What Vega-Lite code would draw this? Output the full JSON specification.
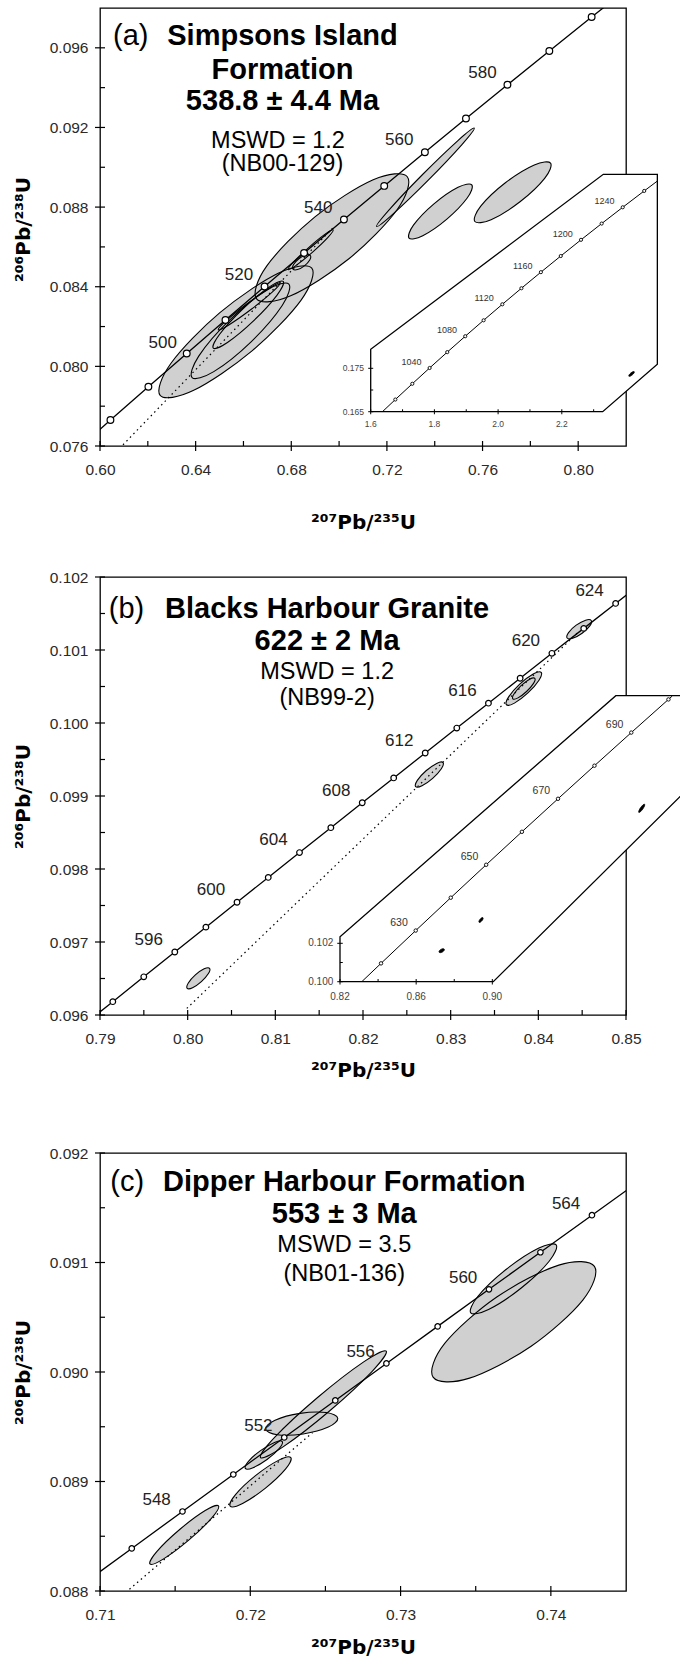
{
"$schema":"https://vega.github.io/schema/vega-lite/v6.json",
"autosize":{"type":"none"},
"padding":{"left":100,"top":8,"right":580,"bottom":1653},
"background":"white",
"config":{
 "view":{"stroke":"black","strokeWidth":1.3},
 "font":"Liberation Sans",
 "axis":{"ticks":false,"domain":false,"grid":false,"labelFont":"Liberation Sans","labelFontSize":15.5,"labelColor":"#2a2a2a","labelFlush":false,"labelOverlap":false,"titleFont":"DejaVu Sans","titleFontSize":20,"titleFontWeight":"bold","titleColor":"black"},
 "axisX":{"labelPadding":16},
 "axisY":{"labelPadding":12}
},
"datasets":{
 "a_conc":[{"t":470,"x":0.588642,"y":0.0756324,"m":0},{"t":480,"x":0.604365,"y":0.0773023,"m":1},{"t":490,"x":0.620244,"y":0.0789747,"m":1},{"t":500,"x":0.636279,"y":0.0806498,"m":1},{"t":510,"x":0.652474,"y":0.0823274,"m":1},{"t":520,"x":0.668829,"y":0.0840077,"m":1},{"t":530,"x":0.685345,"y":0.0856906,"m":1},{"t":540,"x":0.702025,"y":0.0873761,"m":1},{"t":550,"x":0.718871,"y":0.0890642,"m":1},{"t":560,"x":0.735883,"y":0.0907549,"m":1},{"t":570,"x":0.753063,"y":0.0924482,"m":1},{"t":580,"x":0.770413,"y":0.0941442,"m":1},{"t":590,"x":0.787935,"y":0.0958428,"m":1},{"t":600,"x":0.805631,"y":0.0975441,"m":1},{"t":610,"x":0.823501,"y":0.0992479,"m":0}],
 "a_lbl":[{"t":"500","x":0.62622,"y":0.081168},{"t":"520","x":0.65816,"y":0.084599},{"t":"540","x":0.69125,"y":0.087949},{"t":"560","x":0.72515,"y":0.09138},{"t":"580","x":0.75998,"y":0.09473}],
 "a_title":[{"t":"Simpsons Island","x":0.67633,"y":0.096142},{"t":"Formation","x":0.67633,"y":0.094434},{"t":"538.8 ± 4.4 Ma","x":0.67633,"y":0.092877}],
 "a_sub":[{"t":"MSWD = 1.2","x":0.67445,"y":0.090968},{"t":"(NB00-129)","x":0.67633,"y":0.089813}],
 "a_tag":[{"t":"(a)","x":0.605437,"y":0.096142}],
 "a_disc":[{"x":0.60962,"y":0.07606},{"x":0.69743,"y":0.08696}],
 "a_tick":[{"ax":"x","k":"maj","v":0.6},{"ax":"x","k":"maj","v":0.64},{"ax":"x","k":"maj","v":0.68},{"ax":"x","k":"maj","v":0.72},{"ax":"x","k":"maj","v":0.76},{"ax":"x","k":"maj","v":0.8},{"ax":"x","k":"min","v":0.62},{"ax":"x","k":"min","v":0.66},{"ax":"x","k":"min","v":0.7},{"ax":"x","k":"min","v":0.74},{"ax":"x","k":"min","v":0.78},{"ax":"y","k":"maj","v":0.076},{"ax":"y","k":"maj","v":0.08},{"ax":"y","k":"maj","v":0.084},{"ax":"y","k":"maj","v":0.088},{"ax":"y","k":"maj","v":0.092},{"ax":"y","k":"maj","v":0.096},{"ax":"y","k":"min","v":0.078},{"ax":"y","k":"min","v":0.082},{"ax":"y","k":"min","v":0.086},{"ax":"y","k":"min","v":0.09},{"ax":"y","k":"min","v":0.094}],
 "a_ell":[
  {"e":1,"i":0,"x":0.728529,"y":0.089524},{"e":1,"i":1,"x":0.724321,"y":0.0878808},{"e":1,"i":2,"x":0.704115,"y":0.0854041},{"e":1,"i":3,"x":0.679747,"y":0.0835448},{"e":1,"i":4,"x":0.665491,"y":0.083392},{"e":1,"i":5,"x":0.669699,"y":0.0850352},{"e":1,"i":6,"x":0.689905,"y":0.0875119},{"e":1,"i":7,"x":0.714273,"y":0.0893712},
  {"e":2,"i":0,"x":0.688578,"y":0.0849324},{"e":2,"i":1,"x":0.684042,"y":0.083316},{"e":2,"i":2,"x":0.663588,"y":0.0807741},{"e":2,"i":3,"x":0.639197,"y":0.0787956},{"e":2,"i":4,"x":0.625158,"y":0.0785396},{"e":2,"i":5,"x":0.629694,"y":0.080156},{"e":2,"i":6,"x":0.650148,"y":0.0826979},{"e":2,"i":7,"x":0.674539,"y":0.0846764},
  {"e":3,"i":0,"x":0.678992,"y":0.0841343},{"e":3,"i":1,"x":0.676206,"y":0.0830556},{"e":3,"i":2,"x":0.663195,"y":0.0812332},{"e":3,"i":3,"x":0.64758,"y":0.0797346},{"e":3,"i":4,"x":0.638508,"y":0.0794377},{"e":3,"i":5,"x":0.641294,"y":0.0805164},{"e":3,"i":6,"x":0.654306,"y":0.0823388},{"e":3,"i":7,"x":0.66992,"y":0.0838374},
  {"e":4,"i":0,"x":0.676637,"y":0.084263},{"e":4,"i":1,"x":0.673985,"y":0.0835672},{"e":4,"i":2,"x":0.664318,"y":0.082299},{"e":4,"i":3,"x":0.6533,"y":0.0812012},{"e":4,"i":4,"x":0.647385,"y":0.080917},{"e":4,"i":5,"x":0.650038,"y":0.0816128},{"e":4,"i":6,"x":0.659704,"y":0.082881},{"e":4,"i":7,"x":0.670722,"y":0.0839788},
  {"e":5,"i":0,"x":0.675295,"y":0.0841795},{"e":5,"i":1,"x":0.672139,"y":0.0837369},{"e":5,"i":2,"x":0.663271,"y":0.0828668},{"e":5,"i":3,"x":0.653886,"y":0.0820788},{"e":5,"i":4,"x":0.649481,"y":0.0818345},{"e":5,"i":5,"x":0.652637,"y":0.0822771},{"e":5,"i":6,"x":0.661505,"y":0.0831472},{"e":5,"i":7,"x":0.67089,"y":0.0839352},
  {"e":6,"i":0,"x":0.697514,"y":0.0868515},{"e":6,"i":1,"x":0.695344,"y":0.0864797},{"e":6,"i":2,"x":0.688934,"y":0.085742},{"e":6,"i":3,"x":0.682037,"y":0.0850705},{"e":6,"i":4,"x":0.678694,"y":0.0848585},{"e":6,"i":5,"x":0.680864,"y":0.0852303},{"e":6,"i":6,"x":0.687274,"y":0.085968},{"e":6,"i":7,"x":0.694171,"y":0.0866395},
  {"e":7,"i":0,"x":0.687965,"y":0.0855672},{"e":7,"i":1,"x":0.687722,"y":0.0853416},{"e":7,"i":2,"x":0.685499,"y":0.0850489},{"e":7,"i":3,"x":0.682596,"y":0.0848605},{"e":7,"i":4,"x":0.680716,"y":0.0848868},{"e":7,"i":5,"x":0.680958,"y":0.0851124},{"e":7,"i":6,"x":0.683181,"y":0.0854051},{"e":7,"i":7,"x":0.686084,"y":0.0855935},
  {"e":8,"i":0,"x":0.756525,"y":0.091966},{"e":8,"i":1,"x":0.751384,"y":0.0911424},{"e":8,"i":2,"x":0.737294,"y":0.0893544},{"e":8,"i":3,"x":0.722509,"y":0.0876493},{"e":8,"i":4,"x":0.715689,"y":0.087026},{"e":8,"i":5,"x":0.72083,"y":0.0878496},{"e":8,"i":6,"x":0.73492,"y":0.0896376},{"e":8,"i":7,"x":0.749705,"y":0.0913427},
  {"e":9,"i":0,"x":0.755518,"y":0.0891175},{"e":9,"i":1,"x":0.753582,"y":0.0884546},{"e":9,"i":2,"x":0.745084,"y":0.0873959},{"e":9,"i":3,"x":0.735001,"y":0.0865617},{"e":9,"i":4,"x":0.72924,"y":0.0864405},{"e":9,"i":5,"x":0.731176,"y":0.0871034},{"e":9,"i":6,"x":0.739674,"y":0.0881621},{"e":9,"i":7,"x":0.749757,"y":0.0889963},
  {"e":10,"i":0,"x":0.788447,"y":0.0902078},{"e":10,"i":1,"x":0.785973,"y":0.0894411},{"e":10,"i":2,"x":0.775672,"y":0.0882654},{"e":10,"i":3,"x":0.763578,"y":0.0873695},{"e":10,"i":4,"x":0.756775,"y":0.0872782},{"e":10,"i":5,"x":0.759249,"y":0.0880449},{"e":10,"i":6,"x":0.76955,"y":0.0892206},{"e":10,"i":7,"x":0.781644,"y":0.0901165}],
 "ai_poly":[{"i":1,"x":1.6,"y":0.165},{"i":2,"x":2.3284,"y":0.165},{"i":3,"x":2.5,"y":0.17592},{"i":4,"x":2.5,"y":0.2197},{"i":5,"x":2.3303,"y":0.2197},{"i":6,"x":1.6,"y":0.17938}],
 "ai_conc":[{"t":985,"x":1.638148,"y":0.16509,"m":0},{"t":1000,"x":1.67741,"y":0.167804,"m":1},{"t":1020,"x":1.73067,"y":0.171433,"m":1},{"t":1040,"x":1.784989,"y":0.175073,"m":1},{"t":1060,"x":1.840389,"y":0.178724,"m":1},{"t":1080,"x":1.896891,"y":0.182387,"m":1},{"t":1100,"x":1.954517,"y":0.186061,"m":1},{"t":1120,"x":2.013289,"y":0.189746,"m":1},{"t":1140,"x":2.07323,"y":0.193443,"m":1},{"t":1160,"x":2.134363,"y":0.197152,"m":1},{"t":1180,"x":2.196713,"y":0.200871,"m":1},{"t":1200,"x":2.260303,"y":0.204603,"m":1},{"t":1220,"x":2.325158,"y":0.208346,"m":1},{"t":1240,"x":2.391303,"y":0.212101,"m":1},{"t":1260,"x":2.458763,"y":0.215867,"m":1},{"t":1272,"x":2.499882,"y":0.218133,"m":0}],
 "ai_lbl":[{"t":"1040","x":1.72799,"y":0.176473},{"t":"1080","x":1.83989,"y":0.183787},{"t":"1120","x":1.95629,"y":0.191146},{"t":"1160","x":2.07736,"y":0.198552},{"t":"1200","x":2.2033,"y":0.206003},{"t":"1240","x":2.3343,"y":0.213501}],
 "ai_tick":[{"ax":"x","k":"maj","v":1.6},{"ax":"x","k":"maj","v":1.8},{"ax":"x","k":"maj","v":2.0},{"ax":"x","k":"maj","v":2.2},{"ax":"x","k":"min","v":1.7},{"ax":"x","k":"min","v":1.9},{"ax":"x","k":"min","v":2.1},{"ax":"x","k":"min","v":2.3},{"ax":"y","k":"maj","v":0.165},{"ax":"y","k":"maj","v":0.175},{"ax":"y","k":"min","v":0.17}],
 "ai_xlab":[{"t":"1.6","x":1.6,"y":0.16217},{"t":"1.8","x":1.8,"y":0.16217},{"t":"2.0","x":2.0,"y":0.16217},{"t":"2.2","x":2.2,"y":0.16217}],
 "ai_ylab":[{"t":"0.165","x":1.57896,"y":0.165},{"t":"0.175","x":1.57896,"y":0.175}],
 "ai_ell":[{"e":1,"i":0,"x":2.427418,"y":0.1742185},{"e":1,"i":1,"x":2.426665,"y":0.1739169},{"e":1,"i":2,"x":2.421423,"y":0.1734882},{"e":1,"i":3,"x":2.414761,"y":0.1731836},{"e":1,"i":4,"x":2.410582,"y":0.1731815},{"e":1,"i":5,"x":2.411335,"y":0.1734831},{"e":1,"i":6,"x":2.416577,"y":0.1739118},{"e":1,"i":7,"x":2.423239,"y":0.1742164}],
 "b_conc":[{"t":590,"x":0.787935,"y":0.0958428,"m":0},{"t":592,"x":0.79146,"y":0.0961828,"m":1},{"t":594,"x":0.794993,"y":0.096523,"m":1},{"t":596,"x":0.798532,"y":0.0968632,"m":1},{"t":598,"x":0.802078,"y":0.0972036,"m":1},{"t":600,"x":0.805631,"y":0.0975441,"m":1},{"t":602,"x":0.809191,"y":0.0978846,"m":1},{"t":604,"x":0.812758,"y":0.0982253,"m":1},{"t":606,"x":0.816332,"y":0.0985661,"m":1},{"t":608,"x":0.819913,"y":0.098907,"m":1},{"t":610,"x":0.823501,"y":0.0992479,"m":1},{"t":612,"x":0.827097,"y":0.099589,"m":1},{"t":614,"x":0.830699,"y":0.0999302,"m":1},{"t":616,"x":0.834309,"y":0.1002715,"m":1},{"t":618,"x":0.837925,"y":0.100613,"m":1},{"t":620,"x":0.841549,"y":0.1009545,"m":1},{"t":622,"x":0.84518,"y":0.1012961,"m":1},{"t":624,"x":0.848818,"y":0.1016378,"m":1},{"t":626,"x":0.852463,"y":0.1019797,"m":0},{"t":628,"x":0.856115,"y":0.1023216,"m":0}],
 "b_lbl":[{"t":"596","x":0.795562,"y":0.0970292},{"t":"600","x":0.802661,"y":0.0977101},{"t":"604","x":0.809788,"y":0.0983913},{"t":"608","x":0.816943,"y":0.099073},{"t":"612","x":0.824127,"y":0.099755},{"t":"616","x":0.831339,"y":0.1004375},{"t":"620","x":0.838579,"y":0.1011205},{"t":"624","x":0.845848,"y":0.1018038}],
 "b_title":[{"t":"Blacks Harbour Granite","x":0.8159,"y":0.101438},{"t":"622 ± 2 Ma","x":0.8159,"y":0.101003}],
 "b_sub":[{"t":"MSWD = 1.2","x":0.8159,"y":0.100602},{"t":"(NB99-2)","x":0.8159,"y":0.100249}],
 "b_tag":[{"t":"(b)","x":0.791005,"y":0.101438}],
 "b_disc":[{"x":0.7999,"y":0.09609},{"x":0.8446,"y":0.10125}],
 "b_tick":[{"ax":"x","k":"maj","v":0.79},{"ax":"x","k":"maj","v":0.8},{"ax":"x","k":"maj","v":0.81},{"ax":"x","k":"maj","v":0.82},{"ax":"x","k":"maj","v":0.83},{"ax":"x","k":"maj","v":0.84},{"ax":"x","k":"maj","v":0.85},{"ax":"x","k":"min","v":0.795},{"ax":"x","k":"min","v":0.805},{"ax":"x","k":"min","v":0.815},{"ax":"x","k":"min","v":0.825},{"ax":"x","k":"min","v":0.835},{"ax":"x","k":"min","v":0.845},{"ax":"y","k":"maj","v":0.096},{"ax":"y","k":"maj","v":0.097},{"ax":"y","k":"maj","v":0.098},{"ax":"y","k":"maj","v":0.099},{"ax":"y","k":"maj","v":0.1},{"ax":"y","k":"maj","v":0.101},{"ax":"y","k":"maj","v":0.102},{"ax":"y","k":"min","v":0.0965},{"ax":"y","k":"min","v":0.0975},{"ax":"y","k":"min","v":0.0985},{"ax":"y","k":"min","v":0.0995},{"ax":"y","k":"min","v":0.1005},{"ax":"y","k":"min","v":0.1015}],
 "b_ell":[
  {"e":1,"i":0,"x":0.802497,"y":0.0966402},{"e":1,"i":1,"x":0.802366,"y":0.0965675},{"e":1,"i":2,"x":0.801563,"y":0.0964571},{"e":1,"i":3,"x":0.800561,"y":0.0963737},{"e":1,"i":4,"x":0.799945,"y":0.0963661},{"e":1,"i":5,"x":0.800076,"y":0.0964387},{"e":1,"i":6,"x":0.800879,"y":0.0965491},{"e":1,"i":7,"x":0.801881,"y":0.0966325},
  {"e":2,"i":0,"x":0.829129,"y":0.0994587},{"e":2,"i":1,"x":0.828938,"y":0.099374},{"e":2,"i":2,"x":0.827945,"y":0.0992425},{"e":2,"i":3,"x":0.826731,"y":0.0991412},{"e":2,"i":4,"x":0.826007,"y":0.0991293},{"e":2,"i":5,"x":0.826198,"y":0.099214},{"e":2,"i":6,"x":0.827191,"y":0.0993455},{"e":2,"i":7,"x":0.828405,"y":0.0994468},
  {"e":3,"i":0,"x":0.840324,"y":0.1006932},{"e":3,"i":1,"x":0.840075,"y":0.1005857},{"e":3,"i":2,"x":0.838812,"y":0.1004115},{"e":3,"i":3,"x":0.837276,"y":0.1002724},{"e":3,"i":4,"x":0.836366,"y":0.10025},{"e":3,"i":5,"x":0.836616,"y":0.1003575},{"e":3,"i":6,"x":0.837878,"y":0.1005318},{"e":3,"i":7,"x":0.839414,"y":0.1006708},
  {"e":5,"i":0,"x":0.839597,"y":0.1006118},{"e":5,"i":1,"x":0.839451,"y":0.1005424},{"e":5,"i":2,"x":0.838656,"y":0.1004315},{"e":5,"i":3,"x":0.83768,"y":0.1003441},{"e":5,"i":4,"x":0.837093,"y":0.1003314},{"e":5,"i":5,"x":0.837239,"y":0.1004008},{"e":5,"i":6,"x":0.838034,"y":0.1005117},{"e":5,"i":7,"x":0.83901,"y":0.1005991},
  {"e":4,"i":0,"x":0.846034,"y":0.1014046},{"e":4,"i":1,"x":0.845868,"y":0.1013302},{"e":4,"i":2,"x":0.844994,"y":0.1012291},{"e":4,"i":3,"x":0.843922,"y":0.1011604},{"e":4,"i":4,"x":0.843282,"y":0.1011644},{"e":4,"i":5,"x":0.843448,"y":0.1012388},{"e":4,"i":6,"x":0.844322,"y":0.10134},{"e":4,"i":7,"x":0.845394,"y":0.1014086}],
 "bi_poly":[{"i":1,"x":0.82,"y":0.1},{"i":2,"x":0.9005,"y":0.1},{"i":3,"x":1.01,"y":0.110758},{"i":4,"x":1.01,"y":0.114896},{"i":5,"x":0.96486,"y":0.114896},{"i":6,"x":0.82,"y":0.102344}],
 "bi_edge":[{"i":1,"x":1.01,"y":0.110758},{"i":2,"x":0.9005,"y":0.1},{"i":3,"x":0.82,"y":0.1},{"i":4,"x":0.82,"y":0.102344},{"i":5,"x":0.96486,"y":0.114896},{"i":6,"x":1.01,"y":0.114896}],
 "bi_conc":[{"t":614.5,"x":0.831601,"y":0.1000156,"m":0},{"t":620,"x":0.841549,"y":0.1009545,"m":1},{"t":630,"x":0.859775,"y":0.1026636,"m":1},{"t":640,"x":0.878182,"y":0.1043755,"m":1},{"t":650,"x":0.89677,"y":0.10609,"m":1},{"t":660,"x":0.915543,"y":0.1078071,"m":1},{"t":670,"x":0.934501,"y":0.1095269,"m":1},{"t":680,"x":0.953647,"y":0.1112494,"m":1},{"t":690,"x":0.972983,"y":0.1129746,"m":1},{"t":700,"x":0.99251,"y":0.1147024,"m":1},{"t":701,"x":0.994473,"y":0.1148754,"m":0}],
 "bi_lbl":[{"t":"630","x":0.851005,"y":0.1030436},{"t":"650","x":0.888,"y":0.10647},{"t":"670","x":0.925731,"y":0.1099069},{"t":"690","x":0.964213,"y":0.1133546}],
 "bi_tick":[{"ax":"x","k":"maj","v":0.82},{"ax":"x","k":"maj","v":0.86},{"ax":"x","k":"maj","v":0.9},{"ax":"x","k":"min","v":0.84},{"ax":"x","k":"min","v":0.88},{"ax":"y","k":"maj","v":0.1},{"ax":"y","k":"maj","v":0.102},{"ax":"y","k":"min","v":0.101}],
 "bi_xlab":[{"t":"0.82","x":0.82,"y":0.099219},{"t":"0.86","x":0.86,"y":0.099219},{"t":"0.90","x":0.9,"y":0.099219}],
 "bi_ylab":[{"t":"0.100","x":0.81648,"y":0.1},{"t":"0.102","x":0.81648,"y":0.102}],
 "bi_ell":[
  {"e":1,"i":0,"x":0.874775,"y":0.1016931},{"e":1,"i":1,"x":0.874653,"y":0.1016224},{"e":1,"i":2,"x":0.873804,"y":0.1015473},{"e":1,"i":3,"x":0.872724,"y":0.1015119},{"e":1,"i":4,"x":0.872046,"y":0.1015369},{"e":1,"i":5,"x":0.872167,"y":0.1016076},{"e":1,"i":6,"x":0.873016,"y":0.1016827},{"e":1,"i":7,"x":0.874096,"y":0.1017181},
  {"e":2,"i":0,"x":0.895073,"y":0.1033337},{"e":2,"i":1,"x":0.895118,"y":0.1032702},{"e":2,"i":2,"x":0.894543,"y":0.1031738},{"e":2,"i":3,"x":0.893685,"y":0.1031009},{"e":2,"i":4,"x":0.893047,"y":0.1030943},{"e":2,"i":5,"x":0.893002,"y":0.1031578},{"e":2,"i":6,"x":0.893577,"y":0.1032542},{"e":2,"i":7,"x":0.894435,"y":0.1033271},
  {"e":3,"i":0,"x":0.979967,"y":0.1092443},{"e":3,"i":1,"x":0.979921,"y":0.1091543},{"e":3,"i":2,"x":0.979019,"y":0.1089921},{"e":3,"i":3,"x":0.97779,"y":0.1088527},{"e":3,"i":4,"x":0.976953,"y":0.1088177},{"e":3,"i":5,"x":0.976999,"y":0.1089077},{"e":3,"i":6,"x":0.977901,"y":0.1090699},{"e":3,"i":7,"x":0.97913,"y":0.1092093}],
 "c_conc":[{"t":542,"x":0.705381,"y":0.0877135,"m":0},{"t":544,"x":0.708744,"y":0.088051,"m":0},{"t":546,"x":0.712113,"y":0.0883886,"m":1},{"t":548,"x":0.715488,"y":0.0887263,"m":1},{"t":550,"x":0.718871,"y":0.0890642,"m":1},{"t":552,"x":0.72226,"y":0.0894021,"m":1},{"t":554,"x":0.725655,"y":0.0897401,"m":1},{"t":556,"x":0.729058,"y":0.0900783,"m":1},{"t":558,"x":0.732467,"y":0.0904165,"m":1},{"t":560,"x":0.735883,"y":0.0907549,"m":1},{"t":562,"x":0.739305,"y":0.0910933,"m":1},{"t":564,"x":0.742734,"y":0.0914319,"m":1},{"t":566,"x":0.74617,"y":0.0917706,"m":0},{"t":568,"x":0.749613,"y":0.0921093,"m":0}],
 "c_lbl":[{"t":"548","x":0.713768,"y":0.0888313},{"t":"552","x":0.72054,"y":0.0895071},{"t":"556","x":0.727338,"y":0.0901833},{"t":"560","x":0.734163,"y":0.0908599},{"t":"564","x":0.741014,"y":0.0915369}],
 "c_title":[{"t":"Dipper Harbour Formation","x":0.726254,"y":0.09165},{"t":"553 ± 3 Ma","x":0.726254,"y":0.0913568}],
 "c_sub":[{"t":"MSWD = 3.5","x":0.726254,"y":0.0910958},{"t":"(NB01-136)","x":0.726254,"y":0.0908349}],
 "c_tag":[{"t":"(c)","x":0.710685,"y":0.09165}],
 "c_disc":[{"x":0.71196,"y":0.088016},{"x":0.72414,"y":0.089446}],
 "c_tick":[{"ax":"x","k":"maj","v":0.71},{"ax":"x","k":"maj","v":0.72},{"ax":"x","k":"maj","v":0.73},{"ax":"x","k":"maj","v":0.74},{"ax":"x","k":"min","v":0.715},{"ax":"x","k":"min","v":0.725},{"ax":"x","k":"min","v":0.735},{"ax":"y","k":"maj","v":0.088},{"ax":"y","k":"maj","v":0.089},{"ax":"y","k":"maj","v":0.09},{"ax":"y","k":"maj","v":0.091},{"ax":"y","k":"maj","v":0.092},{"ax":"y","k":"min","v":0.0885},{"ax":"y","k":"min","v":0.0895},{"ax":"y","k":"min","v":0.0905},{"ax":"y","k":"min","v":0.0915}],
 "c_ell":[
  {"e":9,"i":0,"x":0.7429,"y":0.0909648},{"e":9,"i":1,"x":0.742127,"y":0.0906572},{"e":9,"i":2,"x":0.738663,"y":0.0902333},{"e":9,"i":3,"x":0.734536,"y":0.0899417},{"e":9,"i":4,"x":0.732164,"y":0.089953},{"e":9,"i":5,"x":0.732937,"y":0.0902607},{"e":9,"i":6,"x":0.736402,"y":0.0906845},{"e":9,"i":7,"x":0.740528,"y":0.0909762},
  {"e":8,"i":0,"x":0.740355,"y":0.0911605},{"e":8,"i":1,"x":0.739874,"y":0.0910091},{"e":8,"i":2,"x":0.738009,"y":0.0907647},{"e":8,"i":3,"x":0.735853,"y":0.0905705},{"e":8,"i":4,"x":0.734669,"y":0.0905403},{"e":8,"i":5,"x":0.73515,"y":0.0906917},{"e":8,"i":6,"x":0.737015,"y":0.0909361},{"e":8,"i":7,"x":0.739171,"y":0.0911303},
  {"e":5,"i":0,"x":0.729045,"y":0.0901907},{"e":5,"i":1,"x":0.728095,"y":0.090004},{"e":5,"i":2,"x":0.725251,"y":0.0896418},{"e":5,"i":3,"x":0.722181,"y":0.0893163},{"e":5,"i":4,"x":0.720683,"y":0.0892181},{"e":5,"i":5,"x":0.721634,"y":0.0894048},{"e":5,"i":6,"x":0.724477,"y":0.089767},{"e":5,"i":7,"x":0.727547,"y":0.0900925},
  {"e":6,"i":0,"x":0.725822,"y":0.0895775},{"e":6,"i":1,"x":0.725191,"y":0.0894967},{"e":6,"i":2,"x":0.723522,"y":0.0894345},{"e":6,"i":3,"x":0.721794,"y":0.0894271},{"e":6,"i":4,"x":0.721018,"y":0.0894791},{"e":6,"i":5,"x":0.721649,"y":0.0895599},{"e":6,"i":6,"x":0.723318,"y":0.0896222},{"e":6,"i":7,"x":0.725046,"y":0.0896295},
  {"e":3,"i":0,"x":0.722124,"y":0.0893644},{"e":3,"i":1,"x":0.721917,"y":0.0892998},{"e":3,"i":2,"x":0.721114,"y":0.0892013},{"e":3,"i":3,"x":0.720184,"y":0.0891265},{"e":3,"i":4,"x":0.719672,"y":0.0891192},{"e":3,"i":5,"x":0.719879,"y":0.0891838},{"e":3,"i":6,"x":0.720682,"y":0.0892824},{"e":3,"i":7,"x":0.721612,"y":0.0893571},
  {"e":2,"i":0,"x":0.722696,"y":0.0892173},{"e":2,"i":1,"x":0.72234,"y":0.0891122},{"e":2,"i":2,"x":0.721011,"y":0.0889394},{"e":2,"i":3,"x":0.719487,"y":0.0887999},{"e":2,"i":4,"x":0.718662,"y":0.0887755},{"e":2,"i":5,"x":0.719018,"y":0.0888806},{"e":2,"i":6,"x":0.720347,"y":0.0890534},{"e":2,"i":7,"x":0.721871,"y":0.0891929},
  {"e":1,"i":0,"x":0.717881,"y":0.0887778},{"e":1,"i":1,"x":0.717426,"y":0.0886657},{"e":1,"i":2,"x":0.715903,"y":0.0884641},{"e":1,"i":3,"x":0.714204,"y":0.088291},{"e":1,"i":4,"x":0.713324,"y":0.0882478},{"e":1,"i":5,"x":0.713778,"y":0.0883599},{"e":1,"i":6,"x":0.715301,"y":0.0885615},{"e":1,"i":7,"x":0.717,"y":0.0887346}]
},
"spacing":131,
"bounds":"flush",
"vconcat":[
{
 "width":526,"height":438,
 "resolve":{"scale":{"x":"independent","y":"independent"}},
 "layer":[
 {"layer":[
  {"data":{"name":"a_ell"},"mark":{"type":"line","interpolate":"cardinal-closed","fill":"#d0d0d0","strokeOpacity":0,"clip":true},
   "encoding":{"x":{"field":"x","type":"quantitative","scale":{"domain":[0.6,0.82],"nice":false,"zero":false},"axis":{"values":[0.6,0.64,0.68,0.72,0.76,0.8],"format":".2f","title":"²⁰⁷Pb/²³⁵U","titleX":263,"titleY":76,"titleBaseline":"middle","titleAlign":"center"}},
    "y":{"field":"y","type":"quantitative","scale":{"domain":[0.076,0.098],"nice":false,"zero":false},"axis":{"values":[0.076,0.08,0.084,0.088,0.092,0.096],"format":".3f","title":"²⁰⁶Pb/²³⁸U","titleX":-77,"titleY":221,"titleAngle":-90,"titleBaseline":"middle","titleAlign":"center"}},
    "detail":{"field":"e"},"order":{"field":"i"}}},
  {"data":{"name":"a_ell"},"mark":{"type":"line","interpolate":"cardinal-closed","stroke":"black","strokeWidth":1.1,"clip":true},
   "encoding":{"x":{"field":"x","type":"quantitative"},"y":{"field":"y","type":"quantitative"},"detail":{"field":"e"},"order":{"field":"i"}}},
  {"data":{"name":"a_disc"},"mark":{"type":"line","stroke":"black","strokeWidth":1.2,"strokeDash":[1.5,3.5]},
   "encoding":{"x":{"field":"x","type":"quantitative"},"y":{"field":"y","type":"quantitative"}}},
  {"data":{"name":"a_conc"},"mark":{"type":"line","stroke":"black","strokeWidth":1.3,"clip":true},
   "encoding":{"x":{"field":"x","type":"quantitative"},"y":{"field":"y","type":"quantitative"},"order":{"field":"t"}}},
  {"data":{"name":"a_conc"},"transform":[{"filter":"datum.m==1"}],"mark":{"type":"point","shape":"circle","filled":true,"fill":"white","stroke":"black","strokeWidth":1.2,"size":45,"opacity":1},
   "encoding":{"x":{"field":"x","type":"quantitative"},"y":{"field":"y","type":"quantitative"}}},
  {"data":{"name":"a_lbl"},"mark":{"type":"text","fontSize":17,"color":"#222","align":"center","baseline":"middle"},
   "encoding":{"x":{"field":"x","type":"quantitative"},"y":{"field":"y","type":"quantitative"},"text":{"field":"t"}}},
  {"data":{"name":"a_title"},"mark":{"type":"text","fontSize":29,"fontWeight":"bold","color":"black","align":"center","baseline":"alphabetic"},
   "encoding":{"x":{"field":"x","type":"quantitative"},"y":{"field":"y","type":"quantitative"},"text":{"field":"t"}}},
  {"data":{"name":"a_sub"},"mark":{"type":"text","fontSize":23.5,"color":"black","align":"center","baseline":"alphabetic"},
   "encoding":{"x":{"field":"x","type":"quantitative"},"y":{"field":"y","type":"quantitative"},"text":{"field":"t"}}},
  {"data":{"name":"a_tag"},"mark":{"type":"text","fontSize":29,"color":"black","align":"left","baseline":"alphabetic"},
   "encoding":{"x":{"field":"x","type":"quantitative"},"y":{"field":"y","type":"quantitative"},"text":{"field":"t"}}},
  {"data":{"name":"a_tick"},"transform":[{"filter":"datum.ax=='x' && datum.k=='maj'"}],"mark":{"type":"tick","orient":"vertical","size":10,"thickness":1.2,"color":"black","opacity":1},
   "encoding":{"x":{"field":"v","type":"quantitative"},"y":{"datum":0.076,"type":"quantitative"}}},
  {"data":{"name":"a_tick"},"transform":[{"filter":"datum.ax=='x' && datum.k=='min'"}],"mark":{"type":"tick","orient":"vertical","size":5,"thickness":1.2,"color":"black","opacity":1,"yOffset":-2.5},
   "encoding":{"x":{"field":"v","type":"quantitative"},"y":{"datum":0.076,"type":"quantitative"}}},
  {"data":{"name":"a_tick"},"transform":[{"filter":"datum.ax=='y' && datum.k=='maj'"}],"mark":{"type":"tick","orient":"horizontal","size":10,"thickness":1.2,"color":"black","opacity":1},
   "encoding":{"y":{"field":"v","type":"quantitative"},"x":{"datum":0.6,"type":"quantitative"}}},
  {"data":{"name":"a_tick"},"transform":[{"filter":"datum.ax=='y' && datum.k=='min'"}],"mark":{"type":"tick","orient":"horizontal","size":5,"thickness":1.2,"color":"black","opacity":1,"xOffset":2.5},
   "encoding":{"y":{"field":"v","type":"quantitative"},"x":{"datum":0.6,"type":"quantitative"}}}
 ]},
 {"layer":[
  {"data":{"name":"ai_poly"},"mark":{"type":"line","interpolate":"linear-closed","fill":"white","stroke":"black","strokeWidth":1.3,"clip":false},
   "encoding":{"x":{"field":"x","type":"quantitative","scale":{"domain":[0.750078,2.40157],"nice":false,"zero":false},"axis":null},"y":{"field":"y","type":"quantitative","scale":{"domain":[0.1570968,0.2580184],"nice":false,"zero":false},"axis":null},"order":{"field":"i"}}},
  {"data":{"name":"ai_conc"},"mark":{"type":"line","stroke":"black","strokeWidth":1},
   "encoding":{"x":{"field":"x","type":"quantitative","axis":null},"y":{"field":"y","type":"quantitative","axis":null},"order":{"field":"t"}}},
  {"data":{"name":"ai_conc"},"transform":[{"filter":"datum.m==1"}],"mark":{"type":"point","shape":"circle","filled":true,"fill":"white","stroke":"black","strokeWidth":0.9,"size":10,"opacity":1},
   "encoding":{"x":{"field":"x","type":"quantitative","axis":null},"y":{"field":"y","type":"quantitative","axis":null}}},
  {"data":{"name":"ai_ell"},"mark":{"type":"line","interpolate":"cardinal-closed","fill":"black","stroke":"black","strokeWidth":0.8},
   "encoding":{"x":{"field":"x","type":"quantitative","axis":null},"y":{"field":"y","type":"quantitative","axis":null},"detail":{"field":"e"},"order":{"field":"i"}}},
  {"data":{"name":"ai_lbl"},"mark":{"type":"text","fontSize":9,"color":"#333","align":"center","baseline":"middle"},
   "encoding":{"x":{"field":"x","type":"quantitative","axis":null},"y":{"field":"y","type":"quantitative","axis":null},"text":{"field":"t"}}},
  {"data":{"name":"ai_xlab"},"mark":{"type":"text","fontSize":8.5,"color":"#444","align":"center","baseline":"middle"},
   "encoding":{"x":{"field":"x","type":"quantitative","axis":null},"y":{"field":"y","type":"quantitative","axis":null},"text":{"field":"t"}}},
  {"data":{"name":"ai_ylab"},"mark":{"type":"text","fontSize":8.5,"color":"#444","align":"right","baseline":"middle"},
   "encoding":{"x":{"field":"x","type":"quantitative","axis":null},"y":{"field":"y","type":"quantitative","axis":null},"text":{"field":"t"}}},
  {"data":{"name":"ai_tick"},"transform":[{"filter":"datum.ax=='x' && datum.k=='maj'"}],"mark":{"type":"tick","orient":"vertical","size":5,"thickness":1,"color":"black","opacity":1},
   "encoding":{"x":{"field":"v","type":"quantitative","axis":null},"y":{"datum":0.165,"type":"quantitative","axis":null}}},
  {"data":{"name":"ai_tick"},"transform":[{"filter":"datum.ax=='x' && datum.k=='min'"}],"mark":{"type":"tick","orient":"vertical","size":2.5,"thickness":1,"color":"black","opacity":1,"yOffset":-1.25},
   "encoding":{"x":{"field":"v","type":"quantitative","axis":null},"y":{"datum":0.165,"type":"quantitative","axis":null}}},
  {"data":{"name":"ai_tick"},"transform":[{"filter":"datum.ax=='y' && datum.k=='maj'"}],"mark":{"type":"tick","orient":"horizontal","size":5,"thickness":1,"color":"black","opacity":1},
   "encoding":{"y":{"field":"v","type":"quantitative","axis":null},"x":{"datum":1.6,"type":"quantitative","axis":null}}},
  {"data":{"name":"ai_tick"},"transform":[{"filter":"datum.ax=='y' && datum.k=='min'"}],"mark":{"type":"tick","orient":"horizontal","size":2.5,"thickness":1,"color":"black","opacity":1,"xOffset":1.25},
   "encoding":{"y":{"field":"v","type":"quantitative","axis":null},"x":{"datum":1.6,"type":"quantitative","axis":null}}}
 ]}
 ]
},
{
 "spacing":138,
 "bounds":"flush",
 "vconcat":[
 {
  "width":526,"height":438,
  "resolve":{"scale":{"x":"independent","y":"independent"}},
  "layer":[
  {"layer":[
   {"data":{"name":"b_ell"},"mark":{"type":"line","interpolate":"cardinal-closed","fill":"#d0d0d0","strokeOpacity":0,"clip":true},
    "encoding":{"x":{"field":"x","type":"quantitative","scale":{"domain":[0.79,0.85],"nice":false,"zero":false},"axis":{"values":[0.79,0.8,0.81,0.82,0.83,0.84,0.85],"format":".2f","title":"²⁰⁷Pb/²³⁵U","titleX":263,"titleY":55,"titleBaseline":"middle","titleAlign":"center"}},
     "y":{"field":"y","type":"quantitative","scale":{"domain":[0.096,0.102],"nice":false,"zero":false},"axis":{"values":[0.096,0.097,0.098,0.099,0.1,0.101,0.102],"format":".3f","title":"²⁰⁶Pb/²³⁸U","titleX":-77,"titleY":219,"titleAngle":-90,"titleBaseline":"middle","titleAlign":"center"}},
     "detail":{"field":"e"},"order":{"field":"i"}}},
   {"data":{"name":"b_ell"},"mark":{"type":"line","interpolate":"cardinal-closed","stroke":"black","strokeWidth":1.1,"clip":true},
    "encoding":{"x":{"field":"x","type":"quantitative"},"y":{"field":"y","type":"quantitative"},"detail":{"field":"e"},"order":{"field":"i"}}},
   {"data":{"name":"b_disc"},"mark":{"type":"line","stroke":"black","strokeWidth":1.2,"strokeDash":[1.5,3.5]},
    "encoding":{"x":{"field":"x","type":"quantitative"},"y":{"field":"y","type":"quantitative"}}},
   {"data":{"name":"b_conc"},"mark":{"type":"line","stroke":"black","strokeWidth":1.3,"clip":true},
    "encoding":{"x":{"field":"x","type":"quantitative"},"y":{"field":"y","type":"quantitative"},"order":{"field":"t"}}},
   {"data":{"name":"b_conc"},"transform":[{"filter":"datum.m==1"}],"mark":{"type":"point","shape":"circle","filled":true,"fill":"white","stroke":"black","strokeWidth":1.2,"size":32,"opacity":1},
    "encoding":{"x":{"field":"x","type":"quantitative"},"y":{"field":"y","type":"quantitative"}}},
   {"data":{"name":"b_lbl"},"mark":{"type":"text","fontSize":17,"color":"#222","align":"center","baseline":"middle"},
    "encoding":{"x":{"field":"x","type":"quantitative"},"y":{"field":"y","type":"quantitative"},"text":{"field":"t"}}},
   {"data":{"name":"b_title"},"mark":{"type":"text","fontSize":29,"fontWeight":"bold","color":"black","align":"center","baseline":"alphabetic"},
    "encoding":{"x":{"field":"x","type":"quantitative"},"y":{"field":"y","type":"quantitative"},"text":{"field":"t"}}},
   {"data":{"name":"b_sub"},"mark":{"type":"text","fontSize":23.5,"color":"black","align":"center","baseline":"alphabetic"},
    "encoding":{"x":{"field":"x","type":"quantitative"},"y":{"field":"y","type":"quantitative"},"text":{"field":"t"}}},
   {"data":{"name":"b_tag"},"mark":{"type":"text","fontSize":29,"color":"black","align":"left","baseline":"alphabetic"},
    "encoding":{"x":{"field":"x","type":"quantitative"},"y":{"field":"y","type":"quantitative"},"text":{"field":"t"}}},
   {"data":{"name":"b_tick"},"transform":[{"filter":"datum.ax=='x' && datum.k=='maj'"}],"mark":{"type":"tick","orient":"vertical","size":10,"thickness":1.2,"color":"black","opacity":1},
    "encoding":{"x":{"field":"v","type":"quantitative"},"y":{"datum":0.096,"type":"quantitative"}}},
   {"data":{"name":"b_tick"},"transform":[{"filter":"datum.ax=='x' && datum.k=='min'"}],"mark":{"type":"tick","orient":"vertical","size":5,"thickness":1.2,"color":"black","opacity":1,"yOffset":-2.5},
    "encoding":{"x":{"field":"v","type":"quantitative"},"y":{"datum":0.096,"type":"quantitative"}}},
   {"data":{"name":"b_tick"},"transform":[{"filter":"datum.ax=='y' && datum.k=='maj'"}],"mark":{"type":"tick","orient":"horizontal","size":10,"thickness":1.2,"color":"black","opacity":1},
    "encoding":{"y":{"field":"v","type":"quantitative"},"x":{"datum":0.79,"type":"quantitative"}}},
   {"data":{"name":"b_tick"},"transform":[{"filter":"datum.ax=='y' && datum.k=='min'"}],"mark":{"type":"tick","orient":"horizontal","size":5,"thickness":1.2,"color":"black","opacity":1,"xOffset":2.5},
    "encoding":{"y":{"field":"v","type":"quantitative"},"x":{"datum":0.79,"type":"quantitative"}}}
  ]},
  {"layer":[
   {"data":{"name":"bi_poly"},"mark":{"type":"line","interpolate":"linear-closed","fill":"white","strokeOpacity":0,"clip":false},
    "encoding":{"x":{"field":"x","type":"quantitative","scale":{"domain":[0.69395,0.97021],"nice":false,"zero":false},"axis":null},"y":{"field":"y","type":"quantitative","scale":{"domain":[0.0982656,0.1210781],"nice":false,"zero":false},"axis":null},"order":{"field":"i"}}},
   {"data":{"name":"bi_edge"},"mark":{"type":"line","stroke":"black","strokeWidth":1.3},
    "encoding":{"x":{"field":"x","type":"quantitative","axis":null},"y":{"field":"y","type":"quantitative","axis":null},"order":{"field":"i"}}},
   {"data":{"name":"bi_conc"},"mark":{"type":"line","stroke":"black","strokeWidth":1},
    "encoding":{"x":{"field":"x","type":"quantitative","axis":null},"y":{"field":"y","type":"quantitative","axis":null},"order":{"field":"t"}}},
   {"data":{"name":"bi_conc"},"transform":[{"filter":"datum.m==1"}],"mark":{"type":"point","shape":"circle","filled":true,"fill":"white","stroke":"black","strokeWidth":0.9,"size":12,"opacity":1},
    "encoding":{"x":{"field":"x","type":"quantitative","axis":null},"y":{"field":"y","type":"quantitative","axis":null}}},
   {"data":{"name":"bi_ell"},"mark":{"type":"line","interpolate":"cardinal-closed","fill":"black","stroke":"black","strokeWidth":0.8},
    "encoding":{"x":{"field":"x","type":"quantitative","axis":null},"y":{"field":"y","type":"quantitative","axis":null},"detail":{"field":"e"},"order":{"field":"i"}}},
   {"data":{"name":"bi_lbl"},"mark":{"type":"text","fontSize":10.5,"color":"#333","align":"center","baseline":"middle"},
    "encoding":{"x":{"field":"x","type":"quantitative","axis":null},"y":{"field":"y","type":"quantitative","axis":null},"text":{"field":"t"}}},
   {"data":{"name":"bi_xlab"},"mark":{"type":"text","fontSize":10,"color":"#444","align":"center","baseline":"middle"},
    "encoding":{"x":{"field":"x","type":"quantitative","axis":null},"y":{"field":"y","type":"quantitative","axis":null},"text":{"field":"t"}}},
   {"data":{"name":"bi_ylab"},"mark":{"type":"text","fontSize":10,"color":"#444","align":"right","baseline":"middle"},
    "encoding":{"x":{"field":"x","type":"quantitative","axis":null},"y":{"field":"y","type":"quantitative","axis":null},"text":{"field":"t"}}},
   {"data":{"name":"bi_tick"},"transform":[{"filter":"datum.ax=='x' && datum.k=='maj'"}],"mark":{"type":"tick","orient":"vertical","size":5.5,"thickness":1,"color":"black","opacity":1},
    "encoding":{"x":{"field":"v","type":"quantitative","axis":null},"y":{"datum":0.1,"type":"quantitative","axis":null}}},
   {"data":{"name":"bi_tick"},"transform":[{"filter":"datum.ax=='x' && datum.k=='min'"}],"mark":{"type":"tick","orient":"vertical","size":2.75,"thickness":1,"color":"black","opacity":1,"yOffset":-1.4},
    "encoding":{"x":{"field":"v","type":"quantitative","axis":null},"y":{"datum":0.1,"type":"quantitative","axis":null}}},
   {"data":{"name":"bi_tick"},"transform":[{"filter":"datum.ax=='y' && datum.k=='maj'"}],"mark":{"type":"tick","orient":"horizontal","size":5.5,"thickness":1,"color":"black","opacity":1},
    "encoding":{"y":{"field":"v","type":"quantitative","axis":null},"x":{"datum":0.82,"type":"quantitative","axis":null}}},
   {"data":{"name":"bi_tick"},"transform":[{"filter":"datum.ax=='y' && datum.k=='min'"}],"mark":{"type":"tick","orient":"horizontal","size":2.75,"thickness":1,"color":"black","opacity":1,"xOffset":1.4},
    "encoding":{"y":{"field":"v","type":"quantitative","axis":null},"x":{"datum":0.82,"type":"quantitative","axis":null}}}
  ]}
  ]
 },
 {
  "width":526,"height":438,
  "layer":[
   {"data":{"name":"c_ell"},"mark":{"type":"line","interpolate":"cardinal-closed","fill":"#d0d0d0","strokeOpacity":0,"clip":true},
    "encoding":{"x":{"field":"x","type":"quantitative","scale":{"domain":[0.71,0.745],"nice":false,"zero":false},"axis":{"values":[0.71,0.72,0.73,0.74],"format":".2f","title":"²⁰⁷Pb/²³⁵U","titleX":263,"titleY":56,"titleBaseline":"middle","titleAlign":"center"}},
     "y":{"field":"y","type":"quantitative","scale":{"domain":[0.088,0.092],"nice":false,"zero":false},"axis":{"values":[0.088,0.089,0.09,0.091,0.092],"format":".3f","title":"²⁰⁶Pb/²³⁸U","titleX":-77,"titleY":219,"titleAngle":-90,"titleBaseline":"middle","titleAlign":"center"}},
     "detail":{"field":"e"},"order":{"field":"i"}}},
   {"data":{"name":"c_ell"},"mark":{"type":"line","interpolate":"cardinal-closed","stroke":"black","strokeWidth":1.1,"clip":true},
    "encoding":{"x":{"field":"x","type":"quantitative"},"y":{"field":"y","type":"quantitative"},"detail":{"field":"e"},"order":{"field":"i"}}},
   {"data":{"name":"c_disc"},"mark":{"type":"line","stroke":"black","strokeWidth":1.2,"strokeDash":[1.5,3.5]},
    "encoding":{"x":{"field":"x","type":"quantitative"},"y":{"field":"y","type":"quantitative"}}},
   {"data":{"name":"c_conc"},"mark":{"type":"line","stroke":"black","strokeWidth":1.3,"clip":true},
    "encoding":{"x":{"field":"x","type":"quantitative"},"y":{"field":"y","type":"quantitative"},"order":{"field":"t"}}},
   {"data":{"name":"c_conc"},"transform":[{"filter":"datum.m==1"}],"mark":{"type":"point","shape":"circle","filled":true,"fill":"white","stroke":"black","strokeWidth":1.2,"size":30,"opacity":1},
    "encoding":{"x":{"field":"x","type":"quantitative"},"y":{"field":"y","type":"quantitative"}}},
   {"data":{"name":"c_lbl"},"mark":{"type":"text","fontSize":17,"color":"#222","align":"center","baseline":"middle"},
    "encoding":{"x":{"field":"x","type":"quantitative"},"y":{"field":"y","type":"quantitative"},"text":{"field":"t"}}},
   {"data":{"name":"c_title"},"mark":{"type":"text","fontSize":29,"fontWeight":"bold","color":"black","align":"center","baseline":"alphabetic"},
    "encoding":{"x":{"field":"x","type":"quantitative"},"y":{"field":"y","type":"quantitative"},"text":{"field":"t"}}},
   {"data":{"name":"c_sub"},"mark":{"type":"text","fontSize":23.5,"color":"black","align":"center","baseline":"alphabetic"},
    "encoding":{"x":{"field":"x","type":"quantitative"},"y":{"field":"y","type":"quantitative"},"text":{"field":"t"}}},
   {"data":{"name":"c_tag"},"mark":{"type":"text","fontSize":29,"color":"black","align":"left","baseline":"alphabetic"},
    "encoding":{"x":{"field":"x","type":"quantitative"},"y":{"field":"y","type":"quantitative"},"text":{"field":"t"}}},
   {"data":{"name":"c_tick"},"transform":[{"filter":"datum.ax=='x' && datum.k=='maj'"}],"mark":{"type":"tick","orient":"vertical","size":10,"thickness":1.2,"color":"black","opacity":1},
    "encoding":{"x":{"field":"v","type":"quantitative"},"y":{"datum":0.088,"type":"quantitative"}}},
   {"data":{"name":"c_tick"},"transform":[{"filter":"datum.ax=='x' && datum.k=='min'"}],"mark":{"type":"tick","orient":"vertical","size":5,"thickness":1.2,"color":"black","opacity":1,"yOffset":-2.5},
    "encoding":{"x":{"field":"v","type":"quantitative"},"y":{"datum":0.088,"type":"quantitative"}}},
   {"data":{"name":"c_tick"},"transform":[{"filter":"datum.ax=='y' && datum.k=='maj'"}],"mark":{"type":"tick","orient":"horizontal","size":10,"thickness":1.2,"color":"black","opacity":1},
    "encoding":{"y":{"field":"v","type":"quantitative"},"x":{"datum":0.71,"type":"quantitative"}}},
   {"data":{"name":"c_tick"},"transform":[{"filter":"datum.ax=='y' && datum.k=='min'"}],"mark":{"type":"tick","orient":"horizontal","size":5,"thickness":1.2,"color":"black","opacity":1,"xOffset":2.5},
    "encoding":{"y":{"field":"v","type":"quantitative"},"x":{"datum":0.71,"type":"quantitative"}}}
  ]
 }
 ]
}
]
}
